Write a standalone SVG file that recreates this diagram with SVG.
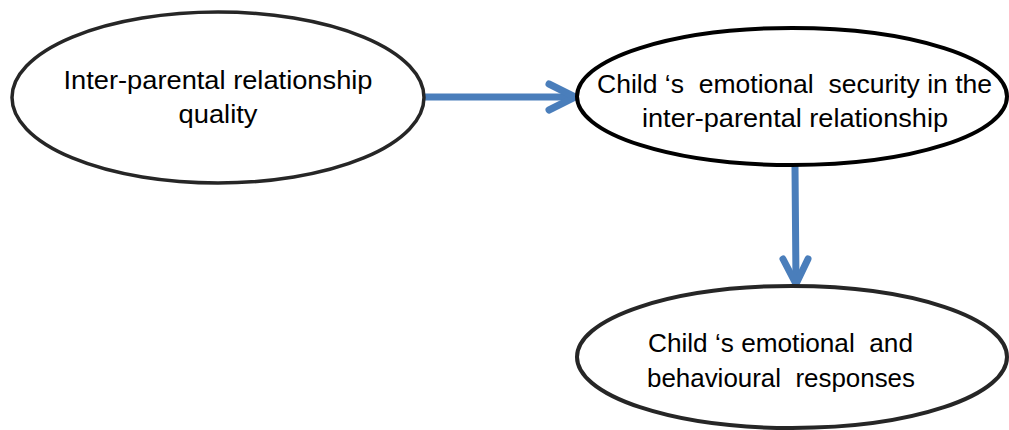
<svg xmlns="http://www.w3.org/2000/svg" width="1009" height="430" viewBox="0 0 1009 430">
<style>
.node ellipse { fill: #ffffff; }
.lbl { font-family: "Liberation Sans", Arial, sans-serif; font-size: 25px; fill: #000000; text-anchor: middle; white-space: pre; }
.conn { stroke: #4a7ebb; stroke-width: 7; fill: none; stroke-linecap: round; stroke-linejoin: round; }
</style>
<rect x="0" y="0" width="1009" height="430" fill="#ffffff"/>
<g id="connectors">
  <path class="conn" d="M425,97 L573,97"/>
  <path class="conn" d="M549,84 L575,97 L549,110"/>
  <path class="conn" d="M795,167 L796,282"/>
  <path class="conn" d="M783,259 L796,284 L808,259"/>
</g>
<g id="node1" class="node">
  <ellipse cx="218" cy="97.5" rx="206" ry="85.5" stroke="#262626" stroke-width="3.5"/>
  <text class="lbl" x="218" y="89" textLength="309" lengthAdjust="spacingAndGlyphs">Inter-parental relationship</text>
  <text class="lbl" x="218" y="123" textLength="79" lengthAdjust="spacingAndGlyphs">quality</text>
</g>
<g id="node2" class="node">
  <ellipse cx="792" cy="96.5" rx="215" ry="68.5" stroke="#000000" stroke-width="4"/>
  <text class="lbl" x="794.5" y="93" textLength="395" lengthAdjust="spacingAndGlyphs" xml:space="preserve">Child ‘s  emotional  security in the</text>
  <text class="lbl" x="795" y="127" textLength="306" lengthAdjust="spacingAndGlyphs">inter-parental relationship</text>
</g>
<g id="node3" class="node">
  <ellipse cx="792" cy="357" rx="215" ry="71" stroke="#262626" stroke-width="4"/>
  <text class="lbl" x="780.5" y="352" textLength="265" lengthAdjust="spacingAndGlyphs" xml:space="preserve">Child ‘s emotional  and</text>
  <text class="lbl" x="781" y="387" textLength="268" lengthAdjust="spacingAndGlyphs" xml:space="preserve">behavioural  responses</text>
</g>
</svg>
